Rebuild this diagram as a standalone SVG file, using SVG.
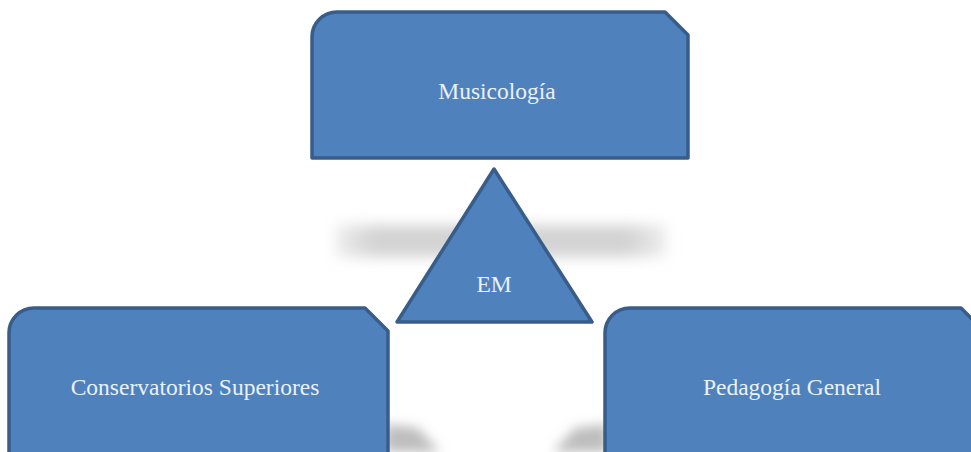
<svg xmlns="http://www.w3.org/2000/svg" width="971" height="452" viewBox="0 0 971 452">
  <style>
    .shape { fill: #4F81BD; stroke: #385D8A; stroke-width: 3.5; stroke-linejoin: round; }
    .label { font-family: "Liberation Serif", "Times New Roman", serif; font-size: 23.5px; fill: #EAF1F9; text-anchor: middle; }
    .shadow { fill: #BDBDBD; }
  </style>
  <defs>
    <filter id="blur" x="-30%" y="-80%" width="160%" height="260%">
      <feGaussianBlur stdDeviation="7"/>
    </filter>
    <filter id="blur2" x="-50%" y="-50%" width="200%" height="200%">
      <feGaussianBlur stdDeviation="6"/>
    </filter>
    <linearGradient id="hfade" x1="0" y1="0" x2="1" y2="0">
      <stop offset="0" stop-color="#C4C4C4" stop-opacity="0.3"/>
      <stop offset="0.12" stop-color="#C4C4C4" stop-opacity="0.75"/>
      <stop offset="0.88" stop-color="#C4C4C4" stop-opacity="0.75"/>
      <stop offset="1" stop-color="#C4C4C4" stop-opacity="0.3"/>
    </linearGradient>
  </defs>
  <rect width="971" height="452" fill="#FFFFFF"/>

  <!-- shadows -->
  <rect x="336" y="225" width="330" height="32" fill="url(#hfade)" filter="url(#blur)"/>
  <path d="M 385 424 L 418 428 L 440 452 L 385 452 Z" class="shadow" filter="url(#blur2)"/>
  <path d="M 608 424 L 575 428 L 553 452 L 608 452 Z" class="shadow" filter="url(#blur2)"/>

  <g id="node-musicologia">
    <path class="shape" d="M 337 12 H 665 L 688 35 V 158 H 312 V 37 A 25 25 0 0 1 337 12 Z"/>
    <text class="label" x="497" y="99">Musicología</text>
  </g>

  <g id="node-em">
    <path class="shape" d="M 494 169 L 592 322 L 397 322 Z"/>
    <text class="label" x="494" y="292">EM</text>
  </g>

  <g id="node-conservatorios">
    <path class="shape" d="M 34 308 H 365 L 388 331 V 462 H 9 V 333 A 25 25 0 0 1 34 308 Z"/>
    <text class="label" x="195" y="395">Conservatorios Superiores</text>
  </g>

  <g id="node-pedagogia">
    <path class="shape" d="M 630 308 H 961 L 984 331 V 462 H 605 V 333 A 25 25 0 0 1 630 308 Z"/>
    <text class="label" x="792" y="395">Pedagogía General</text>
  </g>

  <g id="connectors"></g>
</svg>
